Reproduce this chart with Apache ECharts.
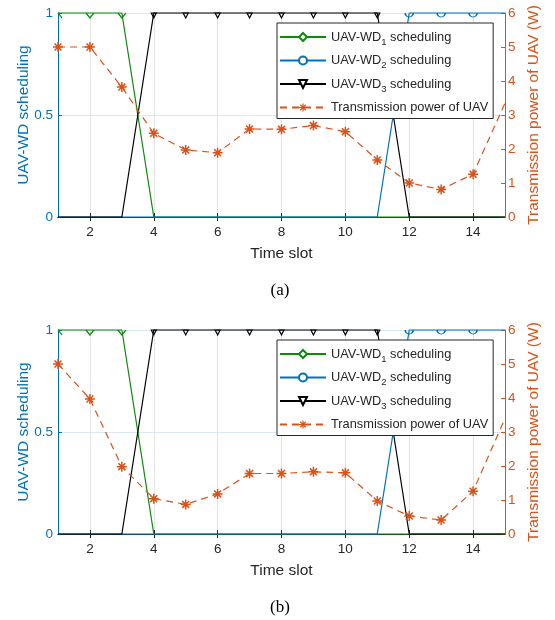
<!DOCTYPE html>
<html>
<head>
<meta charset="utf-8">
<script src="https://cdn.jsdelivr.net/npm/echarts@6/dist/echarts.min.js"></script>
<style>html,body{margin:0;padding:0;background:#fff;}#c{width:555px;height:620px;}</style>
</head>
<body>
<div id="c"></div>
<script>
// ---- data ----
const timeSlots = [1,2,3,4,5,6,7,8,9,10,11,12,13,14,15];
const xTicks = [2,4,6,8,10,12,14];
const wd1 = [1,1,1,0,0,0,0,0,0,0,0,0,0,0,0];
const wd2 = [0,0,0,0,0,0,0,0,0,0,0,1,1,1,1];
const wd3 = [0,0,0,1,1,1,1,1,1,1,1,0,0,0,0];
const powerA = [5.0,5.0,3.82,2.46,1.97,1.89,2.59,2.58,2.69,2.51,1.68,1.0,0.81,1.26,3.35];
const powerB = [5.0,3.97,1.98,1.04,0.87,1.18,1.78,1.78,1.83,1.80,0.97,0.53,0.41,1.26,3.4];
const names = ['UAV-WD1 scheduling','UAV-WD2 scheduling','UAV-WD3 scheduling','Transmission power of UAV'];
const legendLabels = {
  'UAV-WD1 scheduling': 'UAV-WD{s|1} scheduling',
  'UAV-WD2 scheduling': 'UAV-WD{s|2} scheduling',
  'UAV-WD3 scheduling': 'UAV-WD{s|3} scheduling',
  'Transmission power of UAV': 'Transmission power of UAV'
};
const captions = ['(a)','(b)'];

// ---- styles ----
const GREEN = '#0B8A0B', BLUE = '#0072BD', BLACK = '#000000', ORANGE = '#D95319', AX = '#262626';
const FONT = 'Liberation Sans, Arial, sans-serif';
const STAR = 'path://M4.25,0 L5.75,0 L5.75,10 L4.25,10 Z M0,4.25 L10,4.25 L10,5.75 L0,5.75 Z M1,2.1 L2.1,1 L9,7.9 L7.9,9 Z M7.9,1 L9,2.1 L2.1,9 L1,7.9 Z';
const HALF = {
  diamond: {symbol:'path://M0,0 L4,5 L8,0', size:[8,5]},
  diamondQ: {symbol:'path://M0,0 L4,5', size:[4,5], offX:2},
  circle: {symbol:'path://M0,0 A4,4 0 0 0 8,0', size:[8,4]},
  tri: {symbol:'path://M0,0 L5,0 L2.5,5 Z', size:[5,5]}
};

function schedData(vals, half, color, skip) {
  return timeSlots.map((x, i) => {
    const v = vals[i];
    if (v === 1 && !(skip && skip.indexOf(x) >= 0)) {
      const h = (x === 1 && half === HALF.diamond) ? HALF.diamondQ : half;
      return {
        value: [x, v], symbol: h.symbol, symbolSize: h.size, symbolRotate: 0,
        symbolOffset: [h.offX || 0, h.size[1] / 2],
        itemStyle: {color: 'transparent', borderColor: color, borderWidth: 1.2}
      };
    }
    return {value: [x, v], symbol: 'none'};
  });
}

function powerData(vals) {
  return timeSlots.map((x, i) => i === timeSlots.length - 1 ? {value: [x, vals[i]], symbol: 'none'} : [x, vals[i]]);
}

const gridTops = [13, 330];
const gridH = 204;
const powers = [powerA, powerB];

const grids = [], xAxes = [], yAxes = [], series = [], legends = [], graphics = [];
gridTops.forEach((top, g) => {
  grids.push({left: 58, top: top, width: 447, height: gridH, containLabel: false});
  xAxes.push({
    type: 'value', gridIndex: g, min: 1, max: 15, position: 'bottom',
    name: 'Time slot', nameLocation: 'middle', nameGap: 29, nameMoveOverlap: false,
    nameTextStyle: {fontFamily: FONT, fontSize: 15.5, color: AX},
    axisLine: {show: true, lineStyle: {color: AX, width: 1}},
    axisTick: {show: true, inside: true, length: 4, customValues: xTicks, lineStyle: {color: AX}},
    axisLabel: {show: true, customValues: xTicks, margin: 8, fontFamily: FONT, fontSize: 13.5, color: AX},
    splitLine: {show: true, lineStyle: {color: '#e3e3e3', width: 1}}
  });
  xAxes.push({
    type: 'value', gridIndex: g, min: 1, max: 15, position: 'top',
    axisLine: {show: true, lineStyle: {color: AX, width: 1}},
    axisTick: {show: true, inside: true, length: 4, customValues: xTicks, lineStyle: {color: AX}},
    axisLabel: {show: false},
    splitLine: {show: false}
  });
  yAxes.push({
    type: 'value', gridIndex: g, min: 0, max: 1, interval: 0.5, position: 'left',
    name: 'UAV-WD scheduling', nameLocation: 'middle', nameGap: 26, nameMoveOverlap: false,
    nameTextStyle: {fontFamily: FONT, fontSize: 15.5, color: BLUE},
    axisLine: {show: true, lineStyle: {color: BLUE, width: 1}},
    axisTick: {show: true, inside: true, length: 4, lineStyle: {color: BLUE}},
    axisLabel: {margin: 5, fontFamily: FONT, fontSize: 13.5, color: BLUE},
    splitLine: {show: true, lineStyle: {color: '#d9e8f4', width: 1}}
  });
  yAxes.push({
    type: 'value', gridIndex: g, min: 0, max: 6, interval: 1, position: 'right',
    name: 'Transmission power of UAV (W)', nameLocation: 'middle', nameGap: 21, nameMoveOverlap: false,
    nameTextStyle: {fontFamily: FONT, fontSize: 15.5, color: ORANGE},
    axisLine: {show: true, lineStyle: {color: ORANGE, width: 1}},
    axisTick: {show: true, inside: true, length: 4, lineStyle: {color: ORANGE}},
    axisLabel: {margin: 3, fontFamily: FONT, fontSize: 13.5, color: ORANGE},
    splitLine: {show: false}
  });
  const xi = g * 2, yl = g * 2, yr = g * 2 + 1;
  series.push({
    name: names[0], type: 'line', xAxisIndex: xi, yAxisIndex: yl,
    data: schedData(wd1, HALF.diamond, GREEN),
    symbol: 'emptyDiamond', symbolSize: 8,
    lineStyle: {color: GREEN, width: 1.2}, itemStyle: {color: GREEN},
    clip: false, animation: false, z: 3
  });
  series.push({
    name: names[1], type: 'line', xAxisIndex: xi, yAxisIndex: yl,
    data: schedData(wd2, HALF.circle, BLUE, [15]),
    symbol: 'emptyCircle', symbolSize: 8,
    lineStyle: {color: BLUE, width: 1.2}, itemStyle: {color: BLUE},
    clip: false, animation: false, z: 3
  });
  series.push({
    name: names[2], type: 'line', xAxisIndex: xi, yAxisIndex: yl,
    data: schedData(wd3, HALF.tri, BLACK),
    symbol: 'emptyTriangle', symbolRotate: 180, symbolSize: 8,
    lineStyle: {color: BLACK, width: 1.2}, itemStyle: {color: BLACK},
    clip: false, animation: false, z: 3
  });
  series.push({
    name: names[3], type: 'line', xAxisIndex: xi, yAxisIndex: yr,
    data: powerData(powers[g]),
    symbol: STAR, symbolSize: 10,
    lineStyle: {color: ORANGE, width: 1.2, type: [7, 5]}, itemStyle: {color: ORANGE},
    clip: false, animation: false, z: 3
  });
  legends.push({
    data: names, orient: 'vertical', left: 277, top: top + 10,
    padding: [4, 5, 1, 2], itemGap: 3.5, itemWidth: 46, itemHeight: 10,
    backgroundColor: '#ffffff', borderColor: AX, borderWidth: 1,
    selectedMode: false,
    formatter: function (n) { return legendLabels[n]; },
    textStyle: {fontFamily: FONT, fontSize: 12.8, color: AX, lineHeight: 20,
      rich: {s: {fontFamily: FONT, fontSize: 9.5, color: AX, lineHeight: 10, verticalAlign: 'bottom'}}},
    z: 10
  });
  graphics.push({
    type: 'text', x: 280, y: top + gridH + 74, z: 10,
    style: {text: captions[g], fontFamily: 'Liberation Serif, Times New Roman, serif', fontSize: 17,
      fill: '#000', textAlign: 'center', textVerticalAlign: 'middle'}
  });
});

const chart = echarts.init(document.getElementById('c'), null, {renderer: 'canvas'});
chart.setOption({
  animation: false,
  backgroundColor: '#ffffff',
  grid: grids, xAxis: xAxes, yAxis: yAxes, series: series, legend: legends, graphic: graphics
});
</script>
</body>
</html>
